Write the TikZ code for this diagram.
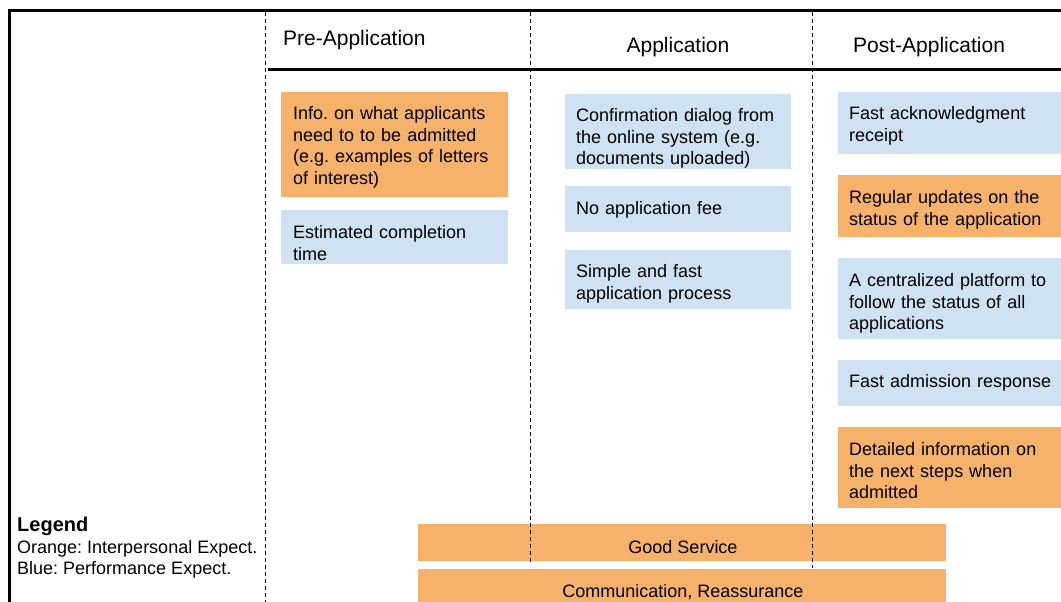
\documentclass[tikz,border=0pt]{standalone}
\usepackage{fontspec}
\setmainfont{Liberation Sans}
\frenchspacing
\definecolor{orbox}{HTML}{F6B26B}
\definecolor{blbox}{HTML}{CFE2F3}
\begin{document}
\begin{tikzpicture}[x=1pt,y=-1pt,
  card/.style={anchor=north west, inner sep=0pt},
  ocard/.style={card, fill=orbox},
  bcard/.style={card, fill=blbox},
  txt/.style={anchor=base west, inner sep=0pt, align=left, text width=222pt, font=\fontsize{18}{21.5}\selectfont\frenchspacing},
  band/.style={fill=orbox, anchor=north west, inner sep=0pt, minimum width=528pt},
  bandtxt/.style={inner sep=0pt, font=\fontsize{18}{21.5}\selectfont},
  head/.style={font=\fontsize{21}{25}\selectfont, inner sep=0pt},
  frame/.style={line width=3pt},
  divider/.style={line width=0.9pt, dash pattern=on 4pt off 3pt},
  leg/.style={anchor=west, inner sep=0pt, font=\fontsize{18}{21}\selectfont\frenchspacing}]
\useasboundingbox (0,0) rectangle (1061,602);
\clip (0,0) rectangle (1061,602);

% frame coordinates
\coordinate (ftl) at (9,11);
\coordinate (ftr) at (1070,11);
\coordinate (fbl) at (9,610);
\coordinate (hl) at (268,70);
\coordinate (hr) at (1070,70);

% boxes: pre-application
\node[ocard, minimum width=227pt, minimum height=105pt] (p1) at (281,92) {};
\node[bcard, minimum width=227pt, minimum height=54pt] (p2) at (281,210) {};
% application
\node[bcard, minimum width=226pt, minimum height=75pt] (a1) at (565,94) {};
\node[bcard, minimum width=226pt, minimum height=46pt] (a2) at (565,186) {};
\node[bcard, minimum width=226pt, minimum height=59pt] (a3) at (565,250) {};
% post-application
\node[bcard, minimum width=240pt, minimum height=62pt] (q1) at (838,92) {};
\node[ocard, minimum width=240pt, minimum height=62pt] (q2) at (838,175) {};
\node[bcard, minimum width=240pt, minimum height=81pt] (q3) at (838,258) {};
\node[bcard, minimum width=240pt, minimum height=46pt] (q4) at (838,360) {};
\node[ocard, minimum width=240pt, minimum height=81pt] (q5) at (838,427) {};

% texts
\node[txt] (p1t) at ([xshift=12pt,yshift=-28pt]p1.north west) {Info. on what applicants\\need to to be admitted\\(e.g. examples of letters\\of interest)};
\node[txt] (p2t) at ([xshift=12pt,yshift=-28.5pt]p2.north west) {Estimated completion\\time};
\node[txt] (a1t) at ([xshift=11pt,yshift=-27.5pt]a1.north west) {Confirmation dialog from\\the online system (e.g.\\documents uploaded)};
\node[txt] (a2t) at ([xshift=11pt,yshift=-28pt]a2.north west) {No application fee};
\node[txt] (a3t) at ([xshift=11pt,yshift=-27.5pt]a3.north west) {Simple and fast\\application process};
\node[txt] (q1t) at ([xshift=11pt,yshift=-27.5pt]q1.north west) {Fast acknowledgment\\receipt};
\node[txt] (q2t) at ([xshift=11pt,yshift=-28.5pt]q2.north west) {Regular updates on the\\status of the application};
\node[txt] (q3t) at ([xshift=11pt,yshift=-28.5pt]q3.north west) {A centralized platform to\\follow the status of all\\applications};
\node[txt] (q4t) at ([xshift=11pt,yshift=-27.5pt]q4.north west) {Fast admission response};
\node[txt] (q5t) at ([xshift=11pt,yshift=-28.5pt]q5.north west) {Detailed information on\\the next steps when\\admitted};

% bands
\node[band, minimum height=37pt] (g1) at (418,524) {};
\node[bandtxt] (g1t) at (683,547) {Good Service};
\node[band, minimum height=44pt] (g2) at (418,569) {};
\node[bandtxt] (g2t) at (683,592) {Communication, Reassurance};

% dividers
\coordinate (d1t) at (265,12);
\coordinate (d1b) at (265,602);
\coordinate (d2t) at (530,12);
\coordinate (d2b) at (530,565);
\coordinate (d3t) at (812,12);
\coordinate (d3b) at (812,568);
\draw[divider] (d1t) -- (d1b);
\draw[divider] (d2t) -- (d2b);
\draw[divider] (d3t) -- (d3b);

% frame and header rule
\draw[frame] (fbl) -- (ftl) -- (ftr);
\draw[frame] (hl) -- (hr);

% headers
\node[head, anchor=west] (h1) at (283,40) {Pre-Application};
\node[head] (h2) at (678,47) {Application};
\node[head, anchor=west] (h3) at (853,47) {Post-Application};

% legend
\node[leg, font=\fontsize{20}{24}\selectfont\bfseries] (l0) at (17,526) {Legend};
\node[leg] (l1) at (17,549) {Orange: Interpersonal Expect.};
\node[leg] (l2) at (17,570) {Blue: Performance Expect.};
\end{tikzpicture}
\end{document}
